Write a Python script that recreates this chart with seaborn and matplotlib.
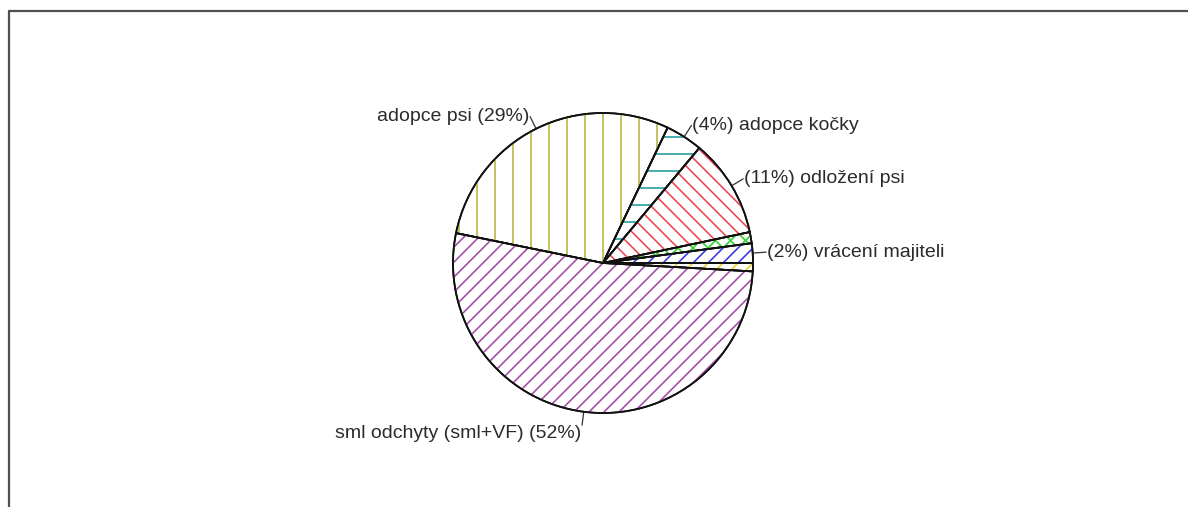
import numpy as np
import matplotlib
matplotlib.use("Agg")
import matplotlib.pyplot as plt
import seaborn as sns
from matplotlib.lines import Line2D
from matplotlib.collections import LineCollection

# data (clockwise from the left edge)
categories = ["adopce psi", "adopce kočky", "odložení psi", "", "vrácení majiteli", "", "sml odchyty (sml+VF)"]
shares = [28.9, 4.0, 10.6, 1.2, 2.1, 0.9, 52.3]
label_texts = ["adopce psi (29%)", "(4%) adopce kočky", "(11%) odložení psi", "",
               "(2%) vrácení majiteli", "", "sml odchyty (sml+VF) (52%)"]
hatch_colors = ["#b4b43c", "#1f9a9a", "#ee4450", "#2ed02e", "#3535e8", "#e6d22a", "#a24aa8"]
hatch_kinds = ["|", "-", "\\", "x", "/", "/", "/"]

sns.set_theme(style="white")
plt.rcParams["font.family"] = ["Liberation Sans", "DejaVu Sans"]

W, H, DPI = 1188, 507, 100
fig = plt.figure(figsize=(W / DPI, H / DPI), dpi=DPI)
ax = fig.add_axes([0, 0, 1, 1])

# pie centre / radius in pixels
cx, cy, R = 603, 263, 150
start = 168.5


def hatch_segments(kind):
    # line spacing in axes units (1 unit = pie radius)
    segs = []
    if kind == "|":
        for x in np.arange(-1.2, 1.2, 18 / R):
            segs.append([(x, -1.2), (x, 1.2)])
    elif kind == "-":
        for y in np.arange(-1.2, 1.2, 17 / R):
            segs.append([(-1.2, y), (1.2, y)])
    if kind in ("/", "x"):
        for b in np.arange(-2.6, 2.6, 15 / R):
            segs.append([(-1.3, -1.3 + b), (1.3, 1.3 + b)])
    if kind in ("\\", "x"):
        for b in np.arange(-2.6, 2.6, 15 / R):
            segs.append([(-1.3, 1.3 + b), (1.3, -1.3 + b)])
    return segs


wedges, _ = ax.pie(shares, startangle=start, counterclock=False, radius=1,
                   wedgeprops=dict(facecolor="white", edgecolor="black", linewidth=1.2))
for w, hc, kind in zip(wedges, hatch_colors, hatch_kinds):
    lc = LineCollection(hatch_segments(kind), colors=hc, linewidths=1.15, zorder=w.get_zorder() + 0.1)
    ax.add_collection(lc)
    lc.set_clip_path(w)

# black outlines on top of the hatching
outl, _ = ax.pie(shares, startangle=start, counterclock=False, radius=1,
                 wedgeprops=dict(fill=False, edgecolor="#111111", linewidth=1.3, zorder=5))

# labels with short leader lines
for w, txt in zip(outl, label_texts):
    if not txt:
        continue
    mid = np.deg2rad((w.theta1 + w.theta2) / 2)
    c, s = np.cos(mid), np.sin(mid)
    x1, y1 = 1.09 * c, 1.09 * s
    ax.add_line(Line2D([c, x1], [s, y1], color="#333333", lw=0.9))
    ha = "left" if c > 0 else "right"
    va = "top" if s < -0.8 else "center"
    ax.text(x1 + (0.005 if c > 0 else -0.005), y1, txt, ha=ha, va=va,
            fontsize=14, color="#2b2b2b")

ax.set_xlim(-cx / R, (W - cx) / R)
ax.set_ylim(-(H - cy) / R, cy / R)
ax.set_aspect("auto")
ax.axis("off")

# frame (only top and left edges fall inside the picture)
fig.add_artist(Line2D([9 / W, 1], [1 - 11 / H, 1 - 11 / H], color="#505050", lw=1.6))
fig.add_artist(Line2D([9 / W, 9 / W], [0, 1 - 11 / H], color="#505050", lw=1.6))

fig.savefig("out.png", dpi=DPI, facecolor="white")
